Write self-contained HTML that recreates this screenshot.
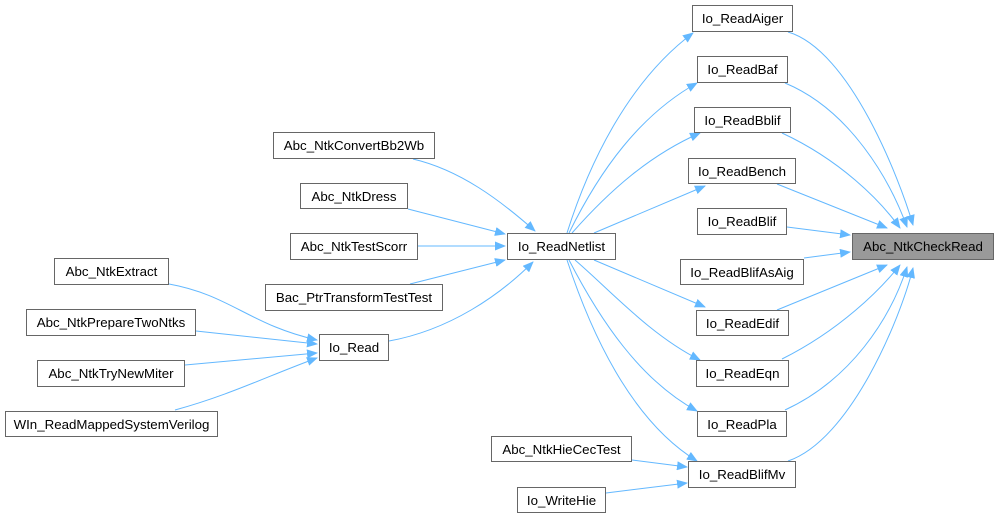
<!DOCTYPE html>
<html><head><meta charset="utf-8"><style>
body{margin:0;width:999px;height:519px;background:#fff;overflow:hidden;position:relative;font-family:"Liberation Sans",Arial,sans-serif}
.n{position:absolute;box-sizing:border-box;border:1px solid #666;background:#fff;font-size:13.3px;color:#000;display:flex;align-items:center;justify-content:center;white-space:nowrap}
.g{background:#999}
svg{position:absolute;left:0;top:0}
</style></head><body>
<svg width="999" height="519"><defs><marker id="a" markerWidth="11" markerHeight="9" refX="10" refY="4.5" orient="auto" markerUnits="userSpaceOnUse"><path d="M0,0 L11,4.5 L0,9 z" fill="#63b8ff"/></marker></defs>
<g fill="none" stroke="#63b8ff" stroke-width="1" marker-end="url(#a)">
<path d="M567,233 C590,160 630,80 693,33"/>
<path d="M569,233 C600,170 640,115 697,83"/>
<path d="M572,233 C610,190 650,155 700,133"/>
<path d="M594,233 L705,186"/>
<path d="M594,260 L705,307"/>
<path d="M575,260 C610,290 650,335 700,360"/>
<path d="M569,260 C600,320 640,380 697,411"/>
<path d="M567,260 C590,330 630,420 697,461"/>
<path d="M788,32 C850,50 900,180 913,225"/>
<path d="M785,83 C850,110 890,180 907,227"/>
<path d="M782,133 C840,160 880,200 900,228"/>
<path d="M777,184 L887,228"/>
<path d="M787,227 L850,235"/>
<path d="M804,258 L850,252"/>
<path d="M777,310 L887,265"/>
<path d="M782,359 C840,330 880,290 900,265"/>
<path d="M785,410 C850,380 890,320 907,267"/>
<path d="M788,461 C850,440 900,320 913,268"/>
<path d="M413,159 C460,170 500,200 535,231"/>
<path d="M408,209 L505,234"/>
<path d="M418,246 L505,246"/>
<path d="M410,284 L505,260"/>
<path d="M389,341 C450,330 500,295 533,262"/>
<path d="M169,284 C230,295 250,325 317,340"/>
<path d="M196,331 L317,344"/>
<path d="M185,365 L317,353"/>
<path d="M175,410 C230,395 270,375 317,358"/>
<path d="M632,460 L687,467"/>
<path d="M606,493 L687,483"/>
</g></svg>
<div class="n g" style="left:852px;top:233px;width:142px;height:27px">Abc_NtkCheckRead</div>
<div class="n" style="left:692px;top:5px;width:101px;height:27px">Io_ReadAiger</div>
<div class="n" style="left:697px;top:56px;width:91px;height:27px">Io_ReadBaf</div>
<div class="n" style="left:694px;top:107px;width:97px;height:26px">Io_ReadBblif</div>
<div class="n" style="left:688px;top:158px;width:108px;height:26px">Io_ReadBench</div>
<div class="n" style="left:697px;top:208px;width:90px;height:27px">Io_ReadBlif</div>
<div class="n" style="left:680px;top:259px;width:124px;height:26px">Io_ReadBlifAsAig</div>
<div class="n" style="left:696px;top:310px;width:93px;height:26px">Io_ReadEdif</div>
<div class="n" style="left:696px;top:360px;width:93px;height:27px">Io_ReadEqn</div>
<div class="n" style="left:697px;top:411px;width:90px;height:26px">Io_ReadPla</div>
<div class="n" style="left:688px;top:461px;width:108px;height:27px">Io_ReadBlifMv</div>
<div class="n" style="left:491px;top:436px;width:141px;height:26px">Abc_NtkHieCecTest</div>
<div class="n" style="left:517px;top:487px;width:89px;height:26px">Io_WriteHie</div>
<div class="n" style="left:507px;top:233px;width:109px;height:27px">Io_ReadNetlist</div>
<div class="n" style="left:273px;top:132px;width:162px;height:27px">Abc_NtkConvertBb2Wb</div>
<div class="n" style="left:300px;top:183px;width:108px;height:26px">Abc_NtkDress</div>
<div class="n" style="left:290px;top:233px;width:128px;height:27px">Abc_NtkTestScorr</div>
<div class="n" style="left:265px;top:284px;width:178px;height:27px">Bac_PtrTransformTestTest</div>
<div class="n" style="left:54px;top:258px;width:115px;height:27px">Abc_NtkExtract</div>
<div class="n" style="left:26px;top:309px;width:170px;height:27px">Abc_NtkPrepareTwoNtks</div>
<div class="n" style="left:37px;top:360px;width:148px;height:27px">Abc_NtkTryNewMiter</div>
<div class="n" style="left:5px;top:411px;width:213px;height:26px">WIn_ReadMappedSystemVerilog</div>
<div class="n" style="left:319px;top:334px;width:70px;height:27px">Io_Read</div>
</body></html>
